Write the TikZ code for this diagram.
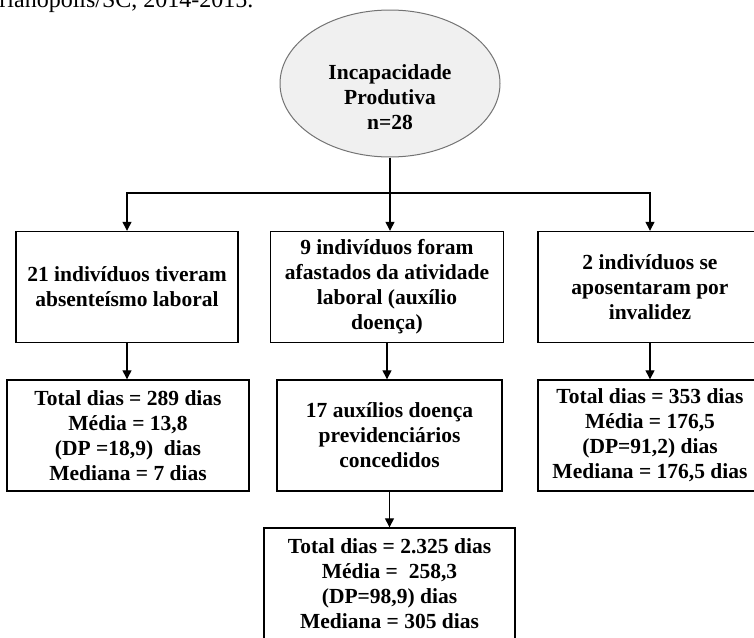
\documentclass[tikz,border=0pt]{standalone}
\usepackage{fontspec}
\setmainfont{Liberation Serif}
\usetikzlibrary{arrows.meta,positioning,shapes.geometric,calc}

\begin{document}
\begin{tikzpicture}[x=1pt,y=-1pt,font=\fontsize{21.5}{25}\selectfont\bfseries,
 box/.style={draw=black,line width=1.4pt,align=center,inner sep=0pt,%
   minimum height=111pt},
 elip/.style={ellipse,draw=black!55,fill=black!6,line width=1pt,%
   minimum width=220pt,minimum height=147pt},
 arr/.style={-{Triangle[length=9pt,width=9pt]},draw=black,line width=1.3pt}]
\path[use as bounding box,clip] (0,0) rectangle (754,637);
\node[font=\fontsize{24}{28}\selectfont,anchor=base east] (caption) at (257,8)
  {Florianópolis/SC, 2014-2015.};
\node[elip] (incap) at (390,83.5) {};
\node[align=center] (incaptext) at (390,97.5) {Incapacidade\\Produtiva\\n=28};
\node[box,minimum width=222pt] (absent) at (127,287)
  {21 indivíduos tiveram\\absenteísmo laboral};
\node[box,minimum width=233pt] (afast) at (387,287)
  {9 indivíduos foram\\afastados da atividade\\laboral (auxílio\\doença)};
\node[box,minimum width=224pt] (aposent) at (650,287)
  {2 indivíduos se\\aposentaram por\\invalidez};
\node[box,minimum width=242pt] (absdias) at (128,435.5)
  {Total dias = 289 dias\\Média = 13,8\\(DP =18,9)\ \ dias\\Mediana = 7 dias};
\node[box,minimum width=225pt] (auxilios) at (389.5,435.5)
  {17 auxílios doença\\previdenciários\\concedidos};
\node[box,minimum width=224pt] (apodias) at (650,435.5)
  {Total dias = 353 dias\\Média = 176,5\\(DP=91,2) dias\\Mediana = 176,5 dias};
\node[box,minimum width=251pt,minimum height=112pt] (auxdias) at (389.5,584)
  {Total dias = 2.325 dias\\Média =\ \ 258,3\\(DP=98,9) dias\\Mediana = 305 dias};
\coordinate (split) at (390,193);
\draw[line width=1.3pt] (incap.south) -- (split);
\draw[arr] (split) -| (absent);
\draw[arr] (split) -- (split |- afast.north);
\draw[arr] (split) -| (aposent);
\draw[arr] (absent.south) -- (absent.south |- absdias.north);
\draw[arr] (afast.south) -- (afast.south |- auxilios.north);
\draw[arr] (apodias.north |- aposent.south) -- (apodias);
\draw[arr] (auxilios) -- (auxdias);
\end{tikzpicture}
\end{document}
